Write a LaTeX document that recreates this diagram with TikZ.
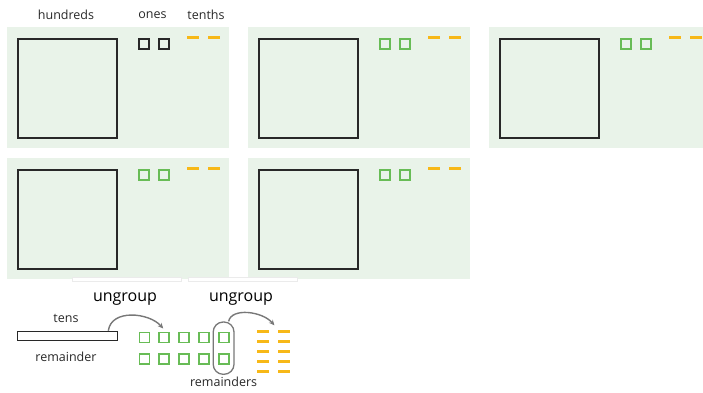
\documentclass[tikz,border=0pt]{standalone}
\usepackage{fontspec}
\setmainfont{Open Sans}
\usetikzlibrary{arrows.meta,positioning,fit,calc}
\definecolor{panBg}{RGB}{233,243,233}
\definecolor{blkInk}{RGB}{40,40,40}
\definecolor{oneInk}{RGB}{104,188,86}
\definecolor{tenInk}{RGB}{247,184,24}
\definecolor{txtInk}{RGB}{40,40,40}
\definecolor{arrInk}{RGB}{120,120,120}

\begin{document}
\begin{tikzpicture}[
  x=1pt, y=-1pt,
  font=\fontsize{12.5}{14}\selectfont, text=txtInk,
  panel/.style ={fill=panBg, anchor=north west, inner sep=0pt,
                 minimum width=222pt, minimum height=121pt},
  hund/.style  ={draw=blkInk, line width=2.2pt, anchor=north west, inner sep=0pt,
                 minimum size=99pt},
  one/.style   ={line width=1.8pt, anchor=north west, inner sep=0pt, minimum size=10pt},
  tenth/.style ={fill=tenInk, anchor=west, inner sep=0pt,
                 minimum width=12pt, minimum height=3pt},
  rod/.style   ={draw=blkInk, fill=white, line width=1.6pt, inner sep=0pt,
                 minimum width=100pt, minimum height=9pt},
  capsule/.style={draw=arrInk, line width=1.3pt, rounded corners=10pt,
                 inner xsep=4.5pt, inner ysep=9.5pt},
  strip/.style ={fill=white, draw=black!8, line width=.4pt},
  big/.style   ={font=\fontsize{16}{18}\selectfont, text=black},
  flow/.style  ={-{Stealth[length=5.5pt,width=5pt]}, line width=1.4pt, draw=arrInk},
]
\useasboundingbox (0,0) rectangle (703,392);

% ================= PANELS =================
\foreach \n/\px/\py/\ink in {1/7/27/blkInk, 2/248/27/oneInk, 3/489/27/oneInk,
                             4/7/158/oneInk, 5/248/158/oneInk} {
  \node[panel] (p\n) at (\px,\py) {};
  \node[hund] (h\n) at ($(p\n.north west)+(10,11)$) {};
  \node[one, draw=\ink] (oa\n) at ($(p\n.north west)+(131,11)$) {};
  \node[one, draw=\ink] (ob\n) at ($(p\n.north west)+(151,11)$) {};
  \node[tenth] (ta\n) at ($(p\n.north west)+(180,10.5)$) {};
  \node[tenth] (tb\n) at ($(p\n.north west)+(201,10.5)$) {};
}
\draw[strip] (72,277) rectangle (181,281.5);
\draw[strip] (188,277) rectangle (297,281.5);

% column labels
\node (lhund) at (66,15) {hundreds};
\node (lones) at (152.5,15) {ones};
\node (ltent) at (206,15) {tenths};

% ================= UNGROUPING =================
\node[rod] (rod) at (67.5,336) {};
\node (ltens) at (66,318) {tens};
\node (lrem)  at (66,357) {remainder};

\foreach \c in {0,...,4}
  \foreach \r in {0,1}
    \node[one, draw=oneInk] (g\r\c) at (138.5+19.8*\c, 331.5+21.5*\r) {};
\node[capsule, fit=(g04)(g14)] (cap) {};
\node[below=-1pt of cap] (lrems) {remainders};

\foreach \r in {0,...,4}
  \foreach \c in {0,1}
    \node[tenth] (d\r\c) at (257+21*\c, 331+10*\r) {};

\node[big] (ug1) at (125,299) {ungroup};
\node[big] (ug2) at (241,299) {ungroup};

\coordinate (u1a) at ($(rod.north east)+(-10,0)$);
\coordinate (u1b) at ($(g01.north)+(-1,-3)$);
\coordinate (u2a) at ($(cap.north)+(5,0)$);
\coordinate (u2b) at ($(d00.north east)+(5,-4)$);
\draw[flow] (u1a) .. controls +(3,-22) and +(-14,-16) .. (u1b);
\draw[flow] (u2a) .. controls +(3,-14) and +(-12,-14) .. (u2b);

\end{tikzpicture}
\end{document}
